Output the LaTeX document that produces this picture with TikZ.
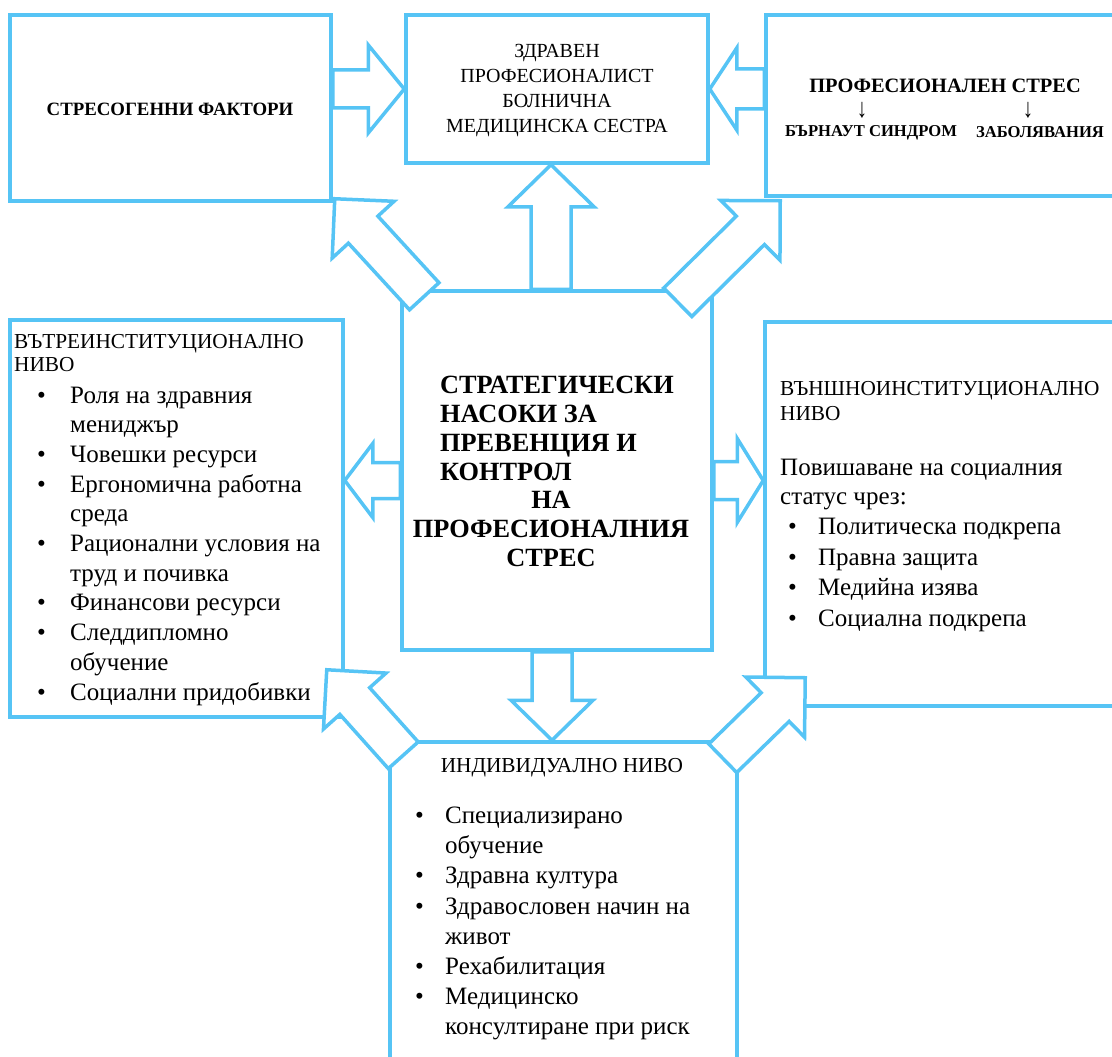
\documentclass[tikz,border=0pt]{standalone}
\usepackage{fontspec}
\usepackage{graphicx}
\setmainfont{Liberation Serif}
\usetikzlibrary{calc}
\definecolor{lblue}{RGB}{86,196,245}
% block arrow: #1 start, #2 tip, #3 shaft half width, #4 head half width, #5 head length
\newcommand{\blockarrow}[5]{%
  \coordinate (bah) at ($(#2)!#5!(#1)$);
  \draw[barrow] ($(#1)!#3!90:(#2)$) -- ($(bah)!#3!90:(#2)$) -- ($(bah)!#4!90:(#2)$) -- (#2)
    -- ($(bah)!#4!-90:(#2)$) -- ($(bah)!#3!-90:(#2)$) -- ($(#1)!#3!-90:(#2)$) -- cycle;}
\newcommand{\bl}[1]{\makebox[#1][l]{•}}
\newcommand{\ind}[1]{\hspace*{#1}}
\newcommand{\downarr}{\raisebox{0pt}[13pt][0pt]{\scalebox{1.15}[1.5]{↓}}}
\begin{document}
\begin{tikzpicture}[x=1pt,y=-1pt,
  box/.style={draw=lblue, line width=3.5pt, inner sep=0pt},
  barrow/.style={draw=lblue, fill=white, line width=3.5pt, line join=miter},
  txt/.style={inner sep=0pt, text=black}]
\useasboundingbox (0,0) rectangle (1112,1057);
\clip (0,0) rectangle (1112,1057);
% boxes
\node[box, minimum width=321pt, minimum height=186pt] (tl) at (170.5,108) {};
\node[box, minimum width=302pt, minimum height=148pt] (tc) at (557,89) {};
\node[box, minimum width=364pt, minimum height=181pt] (tr) at (948,105.5) {};
\node[box, minimum width=310pt, minimum height=359pt] (cb) at (557,470.5) {};
\node[box, minimum width=333pt, minimum height=397pt] (lb) at (176.5,518.5) {};
\node[box, minimum width=365pt, minimum height=384pt] (rb) at (947.5,514) {};
\node[box, minimum width=347pt, minimum height=358pt] (bb) at (563.5,921) {};
% arrow end points
\coordinate (a1s) at (tl.east |- tc.west);
\coordinate (a2s) at (tr.west |- tc.east);
\coordinate (a3s) at ($(cb.north)+(-6,0)$);
\coordinate (a3t) at ($(tc.south)+(-6,0)$);
\coordinate (a4s) at ($(cb.north west)+(24,7)$);
\coordinate (a4t) at ($(tl.south east)+(2,-4)$);
\coordinate (a5s) at ($(cb.north east)+(-36,13)$);
\coordinate (a5t) at ($(tr.south west)+(16,3)$);
\coordinate (a6s) at ($(cb.west)+(0,10)$);
\coordinate (a6t) at (lb.east |- a6s);
\coordinate (a7s) at ($(cb.east)+(0,10)$);
\coordinate (a7t) at (rb.west |- a7s);
\coordinate (a8s) at ($(cb.south)+(-5,0)$);
\coordinate (a8t) at (bb.north -| a8s);
\coordinate (a9s) at ($(bb.north west)+(15,15)$);
\coordinate (a9t) at ($(lb.south east)+(-18,-49)$);
\coordinate (a10s) at ($(bb.north east)+(-16,18)$);
\coordinate (a10t) at ($(rb.south west)+(42,-30)$);
% arrows
\blockarrow{a1s}{tc.west}{19pt}{44pt}{36pt}
\blockarrow{a2s}{tc.east}{20pt}{41pt}{27pt}
\blockarrow{a3s}{a3t}{20pt}{43pt}{42pt}
\blockarrow{a4s}{a4t}{20pt}{42pt}{42pt}
\blockarrow{a5s}{a5t}{20pt}{42pt}{42pt}
\blockarrow{a6s}{a6t}{18pt}{37pt}{28pt}
\blockarrow{a7s}{a7t}{19pt}{42pt}{26pt}
\blockarrow{a8s}{a8t}{20pt}{41pt}{40pt}
\blockarrow{a9s}{a9t}{20pt}{42pt}{42pt}
\blockarrow{a10s}{a10t}{20pt}{42pt}{42pt}
% texts
\node[txt, font=\bfseries\fontsize{18.8}{22}\selectfont] (tlt) at (170,109) {СТРЕСОГЕННИ ФАКТОРИ};
\node[txt, align=center, font=\fontsize{20}{25}\selectfont] (tct) at (557,91) {ЗДРАВЕН\\ПРОФЕСИОНАЛИСТ\\БОЛНИЧНА\\МЕДИЦИНСКА СЕСТРА};
\node[txt, font=\bfseries\fontsize{20.4}{24}\selectfont] (trt) at (945,85.5) {ПРОФЕСИОНАЛЕН СТРЕС};
\node[txt, anchor=base, font=\fontsize{18}{20}\selectfont] (arr1) at (862,117.5) {\downarr};
\node[txt, anchor=base, font=\fontsize{18}{20}\selectfont] (arr2) at (1028,117.5) {\downarr};
\node[txt, font=\bfseries\fontsize{16.6}{18}\selectfont] (trb1) at (871,132.5) {БЪРНАУТ СИНДРОМ};
\node[txt, font=\bfseries\fontsize{16.6}{18}\selectfont] (trb2) at (1040,132.5) {ЗАБОЛЯВАНИЯ};
\node[txt, anchor=west, align=left, font=\bfseries\fontsize{26.3}{29}\selectfont] (cbt1) at (440,428.5) {СТРАТЕГИЧЕСКИ\\НАСОКИ ЗА\\ПРЕВЕНЦИЯ И\\КОНТРОЛ};
\node[txt, align=center, font=\bfseries\fontsize{26.3}{29}\selectfont] (cbt2) at (551,529) {НА\\ПРОФЕСИОНАЛНИЯ\\СТРЕС};
\node[txt, anchor=west, align=left, font=\fontsize{21.3}{23}\selectfont] (lbh) at (14,353) {ВЪТРЕИНСТИТУЦИОНАЛНО\\НИВО};
\node[txt, anchor=west, align=left, font=\fontsize{25}{29.7}\selectfont] (lbl) at (37,546) {%
\bl{33pt}Роля на здравния\\\ind{33pt}мениджър\\\bl{33pt}Човешки ресурси\\\bl{33pt}Ергономична работна\\\ind{33pt}среда\\\bl{33pt}Рационални условия на\\\ind{33pt}труд и почивка\\\bl{33pt}Финансови ресурси\\\bl{33pt}Следдипломно\\\ind{33pt}обучение\\\bl{33pt}Социални придобивки};
\node[txt, anchor=west, align=left, font=\fontsize{21.3}{25}\selectfont] (rbh) at (780,401) {ВЪНШНОИНСТИТУЦИОНАЛНО\\НИВО};
\node[txt, anchor=west, align=left, font=\fontsize{25}{29}\selectfont] (rbi) at (780,485) {Повишаване на социалния\\статус чрез:};
\node[txt, anchor=west, align=left, font=\fontsize{25}{30.7}\selectfont] (rbl) at (788,575) {%
\bl{30pt}Политическа подкрепа\\\bl{30pt}Правна защита\\\bl{30pt}Медийна изява\\\bl{30pt}Социална подкрепа};
\node[txt, font=\fontsize{21.3}{25}\selectfont] (bbh) at (562,768) {ИНДИВИДУАЛНО НИВО};
\node[txt, anchor=west, align=left, font=\fontsize{25}{30.1}\selectfont] (bbl) at (415,923.5) {%
\bl{30pt}Специализирано\\\ind{30pt}обучение\\\bl{30pt}Здравна култура\\\bl{30pt}Здравословен начин на\\\ind{30pt}живот\\\bl{30pt}Рехабилитация\\\bl{30pt}Медицинско\\\ind{30pt}консултиране при риск};
\end{tikzpicture}
\end{document}
